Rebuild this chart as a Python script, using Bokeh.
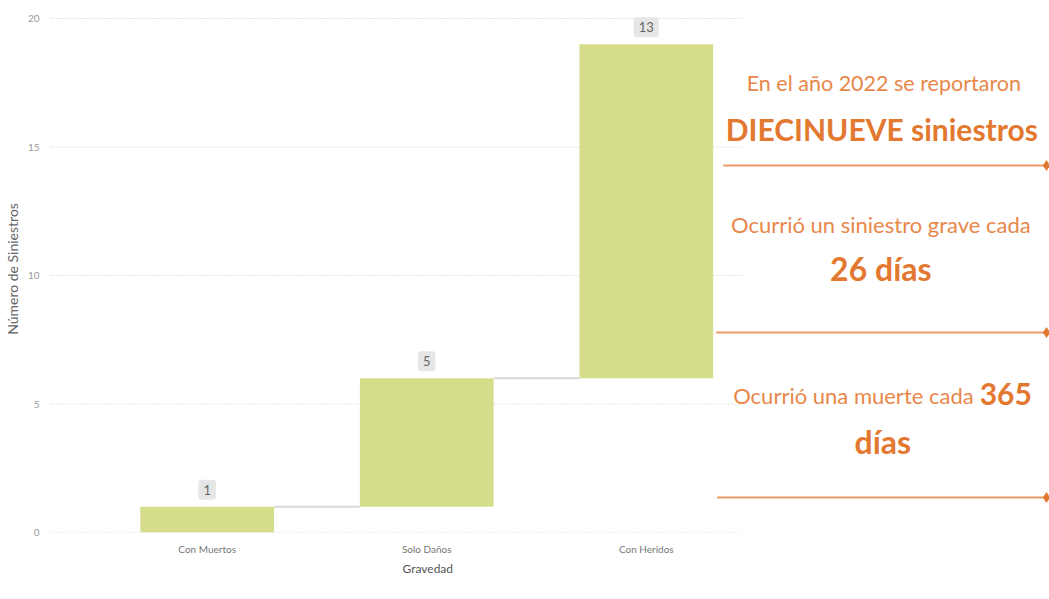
from bokeh.plotting import figure
from bokeh.models import FixedTicker, Label, Range1d, Title
from bokeh.core.properties import value
from bokeh.embed import file_html
from bokeh.resources import INLINE

# ---- data ----
categories = ["Con Muertos", "Solo Daños", "Con Heridos"]
increments = [1, 5, 13]
y_ticks = [0, 5, 10, 15, 20]

headline_1 = "En el año 2022 se reportaron"
headline_2 = "DIECINUEVE siniestros"
fact_1a = "Ocurrió un siniestro grave cada"
fact_1b = "26 días"
fact_2a = "Ocurrió una muerte cada"
fact_2num = "365"
fact_2b = "días"

# cumulative waterfall
starts, ends = [], []
acc = 0
for v in increments:
    starts.append(acc)
    acc += v
    ends.append(acc)
xs = list(range(len(categories)))

# ---- pixel mapping helpers (page layout) ----
X0, SX = 205.0, 220.0   # px of first category centre, px per category
Y0, SY = 532.0, 25.7    # px of y=0, px per unit
FRAME_L, FRAME_R, FRAME_T = 48, 1049, 5

def dx(px):
    return (px - X0) / SX

def dy(py):
    return (Y0 - py) / SY

p = figure(width=1049, height=599, output_backend="svg", toolbar_location=None,
           x_range=Range1d(dx(FRAME_L), dx(FRAME_R)), y_range=Range1d(0, dy(FRAME_T)),
           min_border_left=FRAME_L, min_border_right=0, min_border_top=FRAME_T,
           min_border_bottom=599 - int(Y0))
p.outline_line_color = None
p.background_fill_color = "white"
p.border_fill_color = "white"
p.xgrid.visible = False
p.ygrid.visible = False

# dotted grid lines (only across chart area)
grid_end = dx(740)
p.segment(x0=[dx(FRAME_L)] * len(y_ticks), x1=[grid_end] * len(y_ticks), y0=y_ticks, y1=y_ticks,
          line_color="#c8c8c8", line_width=1, line_dash="1 2")

# bars
bw = 134 / SX / 2
p.quad(left=[x - bw for x in xs], right=[x + bw for x in xs], bottom=starts, top=ends,
       fill_color="#D5DC8A", line_color=None)

# connectors
p.segment(x0=[x + bw for x in xs[:-1]], x1=[x + 1 - bw for x in xs[:-1]],
          y0=ends[:-1], y1=ends[:-1], line_color="#d9d9d9", line_width=2)

# value labels
for x, e, v in zip(xs, ends, increments):
    p.add_layout(Label(x=x, y=e, y_offset=17, text=str(v), text_align="center",
                       text_baseline="middle", text_font="Lato", text_font_size="13px",
                       text_color="#666666", background_fill_color="#e6e6e6",
                       padding=5, border_radius=3))

# axes
p.xaxis.ticker = FixedTicker(ticks=xs)
p.xaxis.major_label_overrides = {i: c for i, c in zip(xs, categories)}
p.xaxis.axis_line_color = None
p.xaxis.major_tick_line_color = None
p.xaxis.minor_tick_line_color = None
p.xaxis.major_label_text_font = "Lato"
p.xaxis.major_label_text_font_size = "10px"
p.xaxis.major_label_text_color = "#777777"
p.xaxis.major_label_standoff = 4

p.yaxis.ticker = FixedTicker(ticks=y_ticks)
p.yaxis.axis_line_color = None
p.yaxis.major_tick_line_color = None
p.yaxis.minor_tick_line_color = None
p.yaxis.major_label_text_font = "Lato"
p.yaxis.major_label_text_font_size = "10px"
p.yaxis.major_label_text_color = "#999999"
p.yaxis.major_label_standoff = 5
p.yaxis.axis_label = "Número de Siniestros"
p.yaxis.axis_label_text_font = "Lato"
p.yaxis.axis_label_text_font_size = "14px"
p.yaxis.axis_label_text_font_style = "normal"
p.yaxis.axis_label_text_color = "#666666"
p.yaxis.axis_label_standoff = 4

# x-axis title centred under the middle category
title_w = 50
p.add_layout(Title(text="Gravedad", align="left", offset=(X0 + SX) - title_w / 2 - FRAME_L,
                   text_font="Lato", text_font_size="12px", text_font_style="normal",
                   text_color="#555555", standoff=2), "below")

# right panel
ORANGE_TXT = "#E8874A"
ORANGE_BOLD = "#E37830"
ORANGE_LINE = "#EB9A66"

def txt(px, py, s, size, bold=False, align="center"):
    p.text(x=[dx(px)], y=[dy(py)], text=[s], text_align=align, text_baseline="middle",
           text_font=value("Lato"), text_font_size=size,
           text_font_style="bold" if bold else "normal",
           text_color=ORANGE_BOLD if bold else ORANGE_TXT)

txt(883, 82, headline_1, "21.5px")
txt(881, 128, headline_2, "30px", bold=True)
txt(880, 224, fact_1a, "22px")
txt(880, 268, fact_1b, "32px", bold=True)
txt(973, 395, fact_2a, "22px", align="right")
txt(979, 393, fact_2num, "30px", bold=True, align="left")
txt(882, 441, fact_2b, "32px", bold=True)

line_y = [dy(165), dy(332), dy(497)]
line_x0 = [dx(722), dx(715), dx(716)]
p.segment(x0=line_x0, x1=[dx(1046)] * 3, y0=line_y, y1=line_y, line_color=ORANGE_LINE, line_width=2)
p.scatter(x=[dx(1046)] * 3, y=line_y, marker="diamond", size=11, fill_color=ORANGE_BOLD,
          line_color=None)

open("out.html", "w").write(file_html(p, INLINE))
